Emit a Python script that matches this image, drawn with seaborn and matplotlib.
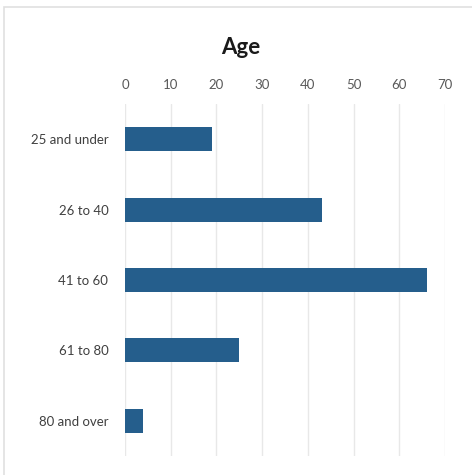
import matplotlib
matplotlib.use("Agg")
import matplotlib.pyplot as plt
import seaborn as sns
import pandas as pd

categories = ["25 and under", "26 to 40", "41 to 60", "61 to 80", "80 and over"]
values = [19, 43, 66, 25, 4]
x_ticks = [0, 10, 20, 30, 40, 50, 60, 70]

df = pd.DataFrame({"group": categories, "count": values})

sns.set_theme(style="white")
plt.rcParams["font.family"] = ["Lato", "DejaVu Sans"]

fig = plt.figure(figsize=(4.72, 4.75), dpi=100)
ax = fig.add_axes([125 / 472, (475 - 456) / 475, 320 / 472, 352 / 475])

sns.barplot(data=df, x="count", y="group", order=categories, color="#255e8c",
            width=0.34, saturation=1, ax=ax, edgecolor="none")

ax.set_xlim(0, 70)
ax.set_xticks(x_ticks)
ax.xaxis.tick_top()
ax.tick_params(axis="x", length=0, pad=9, labelsize=9.5, labelcolor="#595959")
ax.tick_params(axis="y", length=0, pad=12, labelsize=9.5, labelcolor="#404040")
ax.set_xlabel("")
ax.set_ylabel("")
ax.grid(axis="x", color="#e8e8e8", linewidth=1)
ax.set_axisbelow(True)
for s in ax.spines.values():
    s.set_visible(False)

fig.text(241 / 472, 1 - 47 / 475, "Age", ha="center", va="center",
         fontsize=16, fontweight="bold", color="#1a1a1a")

# Light chart-area frame
frame = plt.Rectangle((4 / 472, -0.05), 1.2, 1 - 7 / 475 + 0.05,
                      transform=fig.transFigure, fill=False,
                      edgecolor="#e0e0e0", linewidth=1.2)
fig.patches.append(frame)

fig.savefig("out.png", dpi=100)
